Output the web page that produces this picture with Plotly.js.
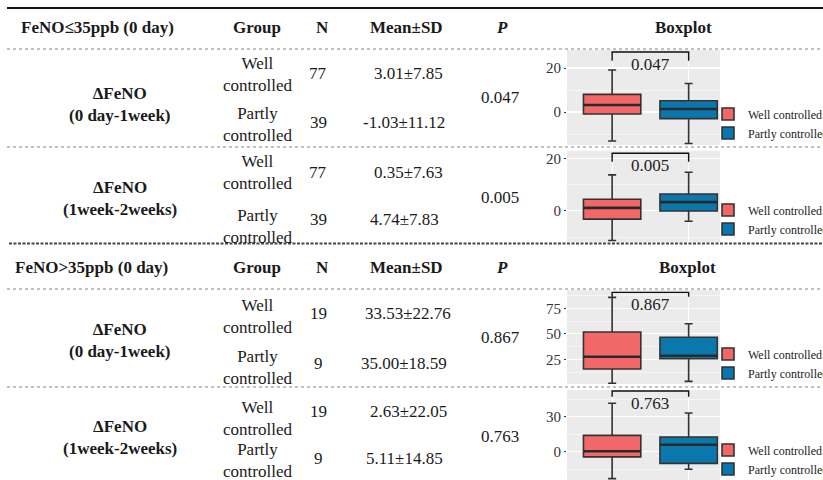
<!DOCTYPE html>
<html>
<head>
<meta charset="utf-8">
<script src="https://cdn.plot.ly/plotly-3.0.1.min.js"></script>
<style>
html,body{margin:0;padding:0;background:#fff;}
#chart svg text{font-family:'Liberation Serif',serif !important;}
</style>
</head>
<body>
<div id="chart"></div>
<script>
// ---------- data ----------
const sectionHeaders = ['FeNO≤35ppb (0 day)', 'FeNO>35ppb (0 day)'];
const columnHeaders = ['Group', 'N', 'Mean±SD', 'P', 'Boxplot'];
const groups = ['Well controlled', 'Partly controlled'];
const groupLines = ['Well<br>controlled', 'Partly<br>controlled'];
const measure = 'ΔFeNO';
const intervals = ['(0 day-1week)', '(1week-2weeks)', '(0 day-1week)', '(1week-2weeks)'];
const nWell = [77, 77, 19, 19];
const nPartly = [39, 39, 9, 9];
const meanWell = ['3.01±7.85', '0.35±7.63', '33.53±22.76', '2.63±22.05'];
const meanPartly = ['-1.03±11.12', '4.74±7.83', '35.00±18.59', '5.11±14.85'];
const pValues = ['0.047', '0.005', '0.867', '0.763'];

// boxplot statistics
const wellLo  = [-13.2, -11.3, 1.5, -23.1];
const wellQ1  = [-0.9, -3.2, 15.5, -4.5];
const wellMed = [3.2, 1.1, 27.5, 0.3];
const wellQ3  = [8.0, 4.4, 51.8, 14.0];
const wellHi  = [19.1, 13.7, 85.8, 41.5];
const partlyLo  = [-14.3, -4.0, 3.4, -15.1];
const partlyQ1  = [-3.0, -0.1, 25.6, -10.0];
const partlyMed = [1.4, 3.3, 28.5, 6.0];
const partlyQ3  = [5.1, 6.4, 46.6, 12.6];
const partlyHi  = [13.0, 14.7, 59.9, 33.2];
const bracketTop = [27.3, 21.9, 90.7, 52.0];
const bracketEnd = [23.3, 18.7, 86.4, 47.1];

// ---------- layout helpers ----------
const W = 823, H = 480;
const px = v => v / W;
const py = v => 1 - v / H;
const FAM = 'Liberation Serif';
const txtColor = '#1a1a1a';

const yRanges = [[-15, 28.2], [-11.9, 22.9], [0.8, 93.0], [-24.3, 52.9]];
const yDticks = [20, 20, 25, 30];
const panelTop = [50, 150.7, 290, 390];
const panelBot = [145, 242, 384, 480];
const legendTop = [99.5, 195.5, 339.5, 435.5];
const redFill = '#F26868';
const blueFill = '#0A78AC';
const boxW = 0.75;

const traces = [];
const layout = {
  width: W, height: H,
  margin: {l: 0, r: 0, t: 0, b: 0, autoexpand: false},
  paper_bgcolor: '#ffffff',
  plot_bgcolor: '#EBEBEB',
  showlegend: true,
  font: {family: FAM, color: txtColor},
  annotations: [],
  shapes: []
};

for (let k = 0; k < 4; k++) {
  const sfx = k === 0 ? '' : String(k + 1);
  const xa = 'x' + sfx, ya = 'y' + sfx;
  const lg = 'legend' + sfx;
  traces.push({
    type: 'box', name: groups[0], x: [1],
    q1: [wellQ1[k]], median: [wellMed[k]], q3: [wellQ3[k]],
    lowerfence: [wellLo[k]], upperfence: [wellHi[k]],
    boxpoints: false, width: boxW, whiskerwidth: 0.14,
    fillcolor: redFill, line: {color: '#333333', width: 1.6},
    xaxis: xa, yaxis: ya, legend: lg, hoverinfo: 'skip'
  });
  traces.push({
    type: 'box', name: groups[1], x: [2],
    q1: [partlyQ1[k]], median: [partlyMed[k]], q3: [partlyQ3[k]],
    lowerfence: [partlyLo[k]], upperfence: [partlyHi[k]],
    boxpoints: false, width: boxW, whiskerwidth: 0.14,
    fillcolor: blueFill, line: {color: '#333333', width: 1.6},
    xaxis: xa, yaxis: ya, legend: lg, hoverinfo: 'skip'
  });
  // thicker median bars (ggplot style)
  traces.push({
    type: 'scatter', mode: 'lines',
    x: [1 - boxW / 2, 1 + boxW / 2, null, 2 - boxW / 2, 2 + boxW / 2],
    y: [wellMed[k], wellMed[k], null, partlyMed[k], partlyMed[k]],
    line: {color: '#2a2a2a', width: 2.6}, showlegend: false,
    xaxis: xa, yaxis: ya, hoverinfo: 'skip'
  });
  traces.push({
    type: 'scatter', mode: 'lines', x: [1, 1, 2, 2],
    y: [bracketEnd[k], bracketTop[k], bracketTop[k], bracketEnd[k]],
    line: {color: '#111', width: 1.4}, showlegend: false,
    xaxis: xa, yaxis: ya, hoverinfo: 'skip'
  });
  layout['xaxis' + sfx] = {
    domain: [px(567), px(720)], range: [0.41, 2.41], anchor: ya,
    tickvals: [1, 2], showticklabels: false, ticks: '',
    showgrid: true, gridcolor: '#ffffff', gridwidth: 1,
    zeroline: false, showline: false, fixedrange: true
  };
  layout['yaxis' + sfx] = {
    domain: [py(panelBot[k]), py(panelTop[k])], range: yRanges[k], anchor: xa,
    dtick: yDticks[k], tick0: 0, ticks: 'outside', ticklen: 2, tickcolor: '#333',
    tickfont: {family: FAM, size: 15, color: '#333'},
    showgrid: true, gridcolor: '#ffffff', gridwidth: 1.1,
    minor: {dtick: yDticks[k] / 2, showgrid: true, gridcolor: '#ffffff', gridwidth: 0.5},
    zeroline: false, showline: false, fixedrange: true
  };
  layout[lg] = {
    x: px(708), y: py(legendTop[k]), xanchor: 'left', yanchor: 'top',
    bgcolor: 'rgba(0,0,0,0)', borderwidth: 0, tracegroupgap: 0,
    font: {family: FAM, size: 12, color: '#222'}, itemwidth: 30
  };
  layout.annotations.push({
    xref: xa, yref: ya, x: 1.5, y: bracketTop[k], yanchor: 'top', yshift: -1,
    text: pValues[k], showarrow: false,
    font: {family: FAM, size: 17, color: '#222'}
  });
}

// ---------- table text ----------
function ann(x, y, text, opts) {
  layout.annotations.push(Object.assign({
    xref: 'paper', yref: 'paper', x: px(x), y: py(y),
    xanchor: 'center', yanchor: 'middle', text: text, showarrow: false,
    font: {family: FAM, size: 17, color: txtColor}
  }, opts || {}));
}
const headerY = [27, 267];
const headerX = [19, 13];
const boxplotX = [683, 687];
for (let s = 0; s < 2; s++) {
  ann(headerX[s], headerY[s], '<b>' + sectionHeaders[s] + '</b>', {xanchor: 'left'});
  ann(257, headerY[s], '<b>' + columnHeaders[0] + '</b>');
  ann(322, headerY[s], '<b>' + columnHeaders[1] + '</b>');
  ann(406, headerY[s], '<b>' + columnHeaders[2] + '</b>');
  ann(502, headerY[s], '<b><i>' + columnHeaders[3] + '</i></b>');
  ann(boxplotX[s], headerY[s], '<b>' + columnHeaders[4] + '</b>');
}
// rows
const rowWellY = [74, 173, 316, 418.5];
const rowPartlyY = [124.5, 226.5, 367, 460];
const numWellY = [73, 172, 313, 411];
const numPartlyY = [122, 220, 363, 458];
const measureY = [104, 198.5, 340.5, 437.5];
const pY = [98, 197, 337, 436];
for (let k = 0; k < 4; k++) {
  ann(257, rowWellY[k], groupLines[0]);
  ann(257, rowPartlyY[k], groupLines[1]);
  ann(318, numWellY[k], String(nWell[k]));
  ann(318, numPartlyY[k], String(nPartly[k]));
  ann(408, numWellY[k], meanWell[k]);
  ann(404, numPartlyY[k], meanPartly[k]);
  ann(120, measureY[k], '<b>' + measure + '<br>' + intervals[k] + '</b>');
  ann(500, pY[k], pValues[k]);
}

// ---------- rules ----------
layout.shapes.push({type: 'line', xref: 'paper', yref: 'paper', x0: px(7), x1: 1, y0: py(8), y1: py(8),
  line: {color: '#111', width: 2.2}});
[49, 147, 289, 387].forEach(v => layout.shapes.push({type: 'line', xref: 'paper', yref: 'paper',
  x0: px(7), x1: 1, y0: py(v), y1: py(v), line: {color: '#777', width: 0.9, dash: 'dot'}}));
layout.shapes.push({type: 'line', xref: 'paper', yref: 'paper', x0: px(9), x1: 1, y0: py(243.5), y1: py(243.5),
  line: {color: '#444', width: 2, dash: '3px,1.5px'}});

Plotly.newPlot('chart', traces, layout, {staticPlot: true, displayModeBar: false});
</script>
</body>
</html>
